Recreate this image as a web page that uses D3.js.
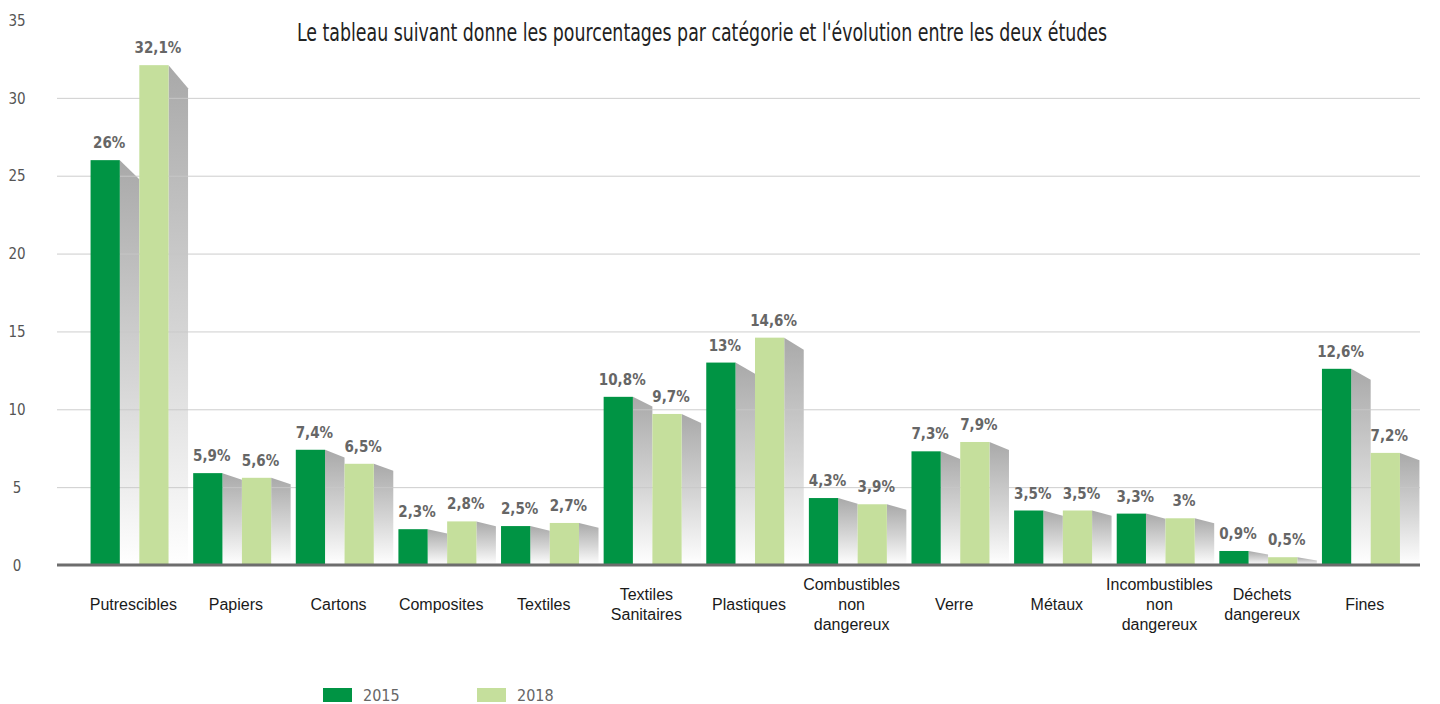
<!DOCTYPE html>
<html>
<head>
<meta charset="utf-8">
<script src="https://cdn.jsdelivr.net/npm/d3@7"></script>
<style>
  body { margin: 0; background: #fff; }
  svg { display: block; }
</style>
</head>
<body>
<div id="wrapper"></div>
<script>
/*global d3*/

const categories = [
    "Putrescibles", "Papiers", "Cartons", "Composites", "Textiles",
    "Textiles Sanitaires", "Plastiques", "Combustibles non dangereux",
    "Verre", "Métaux", "Incombustibles non dangereux", "Déchets dangereux", "Fines"
]
const categoryLines = [
    ["Putrescibles"], ["Papiers"], ["Cartons"], ["Composites"], ["Textiles"],
    ["Textiles", "Sanitaires"], ["Plastiques"], ["Combustibles", "non", "dangereux"],
    ["Verre"], ["Métaux"], ["Incombustibles", "non", "dangereux"], ["Déchets", "dangereux"], ["Fines"]
]
const years = ["2015", "2018"]
const values2015 = [26, 5.9, 7.4, 2.3, 2.5, 10.8, 13, 4.3, 7.3, 3.5, 3.3, 0.9, 12.6]
const values2018 = [32.1, 5.6, 6.5, 2.8, 2.7, 9.7, 14.6, 3.9, 7.9, 3.5, 3, 0.5, 7.2]
const yTicks = [0, 5, 10, 15, 20, 25, 30, 35]
const title = "Le tableau suivant donne les pourcentages par catégorie et l'évolution entre les deux études"

const colors = { "2015": "#009444", "2018": "#c5df9c" }
const narrow = "'Liberation Sans Narrow', 'DejaVu Sans Condensed', 'Liberation Sans', sans-serif"
const regular = "'Liberation Sans', Arial, sans-serif"

const rows = []
categories.forEach((c, i) => {
    rows.push({ cat: c, year: "2015", value: values2015[i] })
    rows.push({ cat: c, year: "2018", value: values2018[i] })
})

const dims = { width: 1440, height: 704, baseline: 565, top: 20, gridLeft: 57, gridRight: 1420 }

const wrapper = d3.select("#wrapper")
    .append("svg")
    .attr("width", dims.width)
    .attr("height", dims.height)

const defs = wrapper.append("defs")
const grad = defs.append("linearGradient")
    .attr("id", "shade")
    .attr("x1", 0).attr("y1", 0).attr("x2", 0).attr("y2", 1)
grad.append("stop").attr("offset", "0%").attr("stop-color", "#a9a9a9")
grad.append("stop").attr("offset", "55%").attr("stop-color", "#d6d6d6")
grad.append("stop").attr("offset", "100%").attr("stop-color", "#ffffff")

// scales
const xScale = d3.scaleBand()
    .domain(categories)
    .range([88, 1422])
    .paddingInner(0.05)
    .paddingOuter(0.025)

const xSub = d3.scaleBand()
    .domain(years)
    .range([0, xScale.bandwidth()])

const barWidth = xSub.bandwidth() * 0.6
const shadowWidth = xSub.bandwidth() - barWidth

const yScale = d3.scaleLinear()
    .domain([0, 35])
    .range([dims.baseline, dims.top])

const barX = d => xScale(d.cat) + xSub(d.year)

// shadows
wrapper.append("g")
    .selectAll("path")
    .data(rows)
    .join("path")
    .attr("d", d => {
        const x0 = barX(d) + barWidth
        const top = yScale(d.value)
        const drop = (dims.baseline - top) * 0.04 + 3
        return `M${x0},${top}L${x0 + shadowWidth},${top + drop}L${x0 + shadowWidth},${dims.baseline}L${x0},${dims.baseline}Z`
    })
    .attr("fill", "url(#shade)")

// grid + y labels
const yAxis = wrapper.append("g")
    .attr("transform", `translate(${dims.gridLeft},0)`)
    .call(d3.axisLeft(yScale)
        .tickValues(yTicks)
        .tickSize(-(dims.gridRight - dims.gridLeft))
        .tickPadding(0)
        .tickFormat(d3.format("d")))
yAxis.select(".domain").remove()
yAxis.selectAll(".tick line")
    .attr("stroke", "#c8c8c8")
    .attr("stroke-opacity", d => d === 35 ? 0 : 0.9)
yAxis.selectAll(".tick text")
    .attr("x", -40)
    .attr("dy", "0.35em")
    .style("text-anchor", "middle")
    .style("font-family", narrow)
    .style("font-size", "15px")
    .attr("fill", "#555")

// bars
wrapper.append("g")
    .selectAll("rect")
    .data(rows)
    .join("rect")
    .attr("x", barX)
    .attr("y", d => yScale(d.value))
    .attr("width", barWidth)
    .attr("height", d => dims.baseline - yScale(d.value))
    .attr("fill", d => colors[d.year])

// value labels
const fmt = v => String(v).replace(".", ",") + "%"
wrapper.append("g")
    .selectAll("text")
    .data(rows)
    .join("text")
    .attr("x", d => barX(d) + barWidth / 2 + 4)
    .attr("y", d => yScale(d.value) - 12)
    .text(d => fmt(d.value))
    .style("text-anchor", "middle")
    .style("font-family", narrow)
    .style("font-weight", "bold")
    .style("font-size", "15px")
    .attr("fill", "#666")

// baseline + category labels
const xAxis = wrapper.append("g")
    .attr("transform", `translate(0,${dims.baseline})`)
    .call(d3.axisBottom(xScale).tickSize(0).tickSizeOuter(0))
xAxis.select(".domain")
    .attr("d", `M${dims.gridLeft},0H${dims.gridRight}`)
    .attr("stroke", "#6d6d6d")
    .attr("stroke-width", 3)
xAxis.selectAll(".tick")
    .attr("transform", d => `translate(${xScale(d) + xScale.bandwidth() / 2 - 6},0)`)
xAxis.selectAll(".tick text").each(function (d, i) {
    const lines = categoryLines[i]
    const t = d3.select(this).text(null)
        .attr("y", 0)
        .attr("dy", null)
        .attr("fill", "#1a1a1a")
        .style("font-family", regular)
        .style("font-size", "16px")
    const startY = 45 - (lines.length - 1) * 10
    lines.forEach((l, j) => {
        t.append("tspan")
            .attr("x", 0)
            .attr("y", startY + j * 20)
            .text(l)
    })
})

// title
wrapper.append("text")
    .attr("x", 297)
    .attr("y", 41)
    .text(title)
    .attr("textLength", 810)
    .attr("lengthAdjust", "spacingAndGlyphs")
    .style("font-family", narrow)
    .style("font-weight", 300)
    .style("font-size", "24px")
    .attr("fill", "#222")

// legend
const legend = wrapper.append("g")
    .selectAll("g")
    .data(years)
    .join("g")
    .attr("transform", (d, i) => `translate(${323 + i * 154},688)`)
legend.append("rect")
    .attr("width", 29)
    .attr("height", 14)
    .attr("fill", d => colors[d])
legend.append("text")
    .attr("x", 40)
    .attr("y", 13)
    .text(d => d)
    .style("font-family", narrow)
    .style("font-size", "16px")
    .attr("fill", "#666")
</script>
</body>
</html>
